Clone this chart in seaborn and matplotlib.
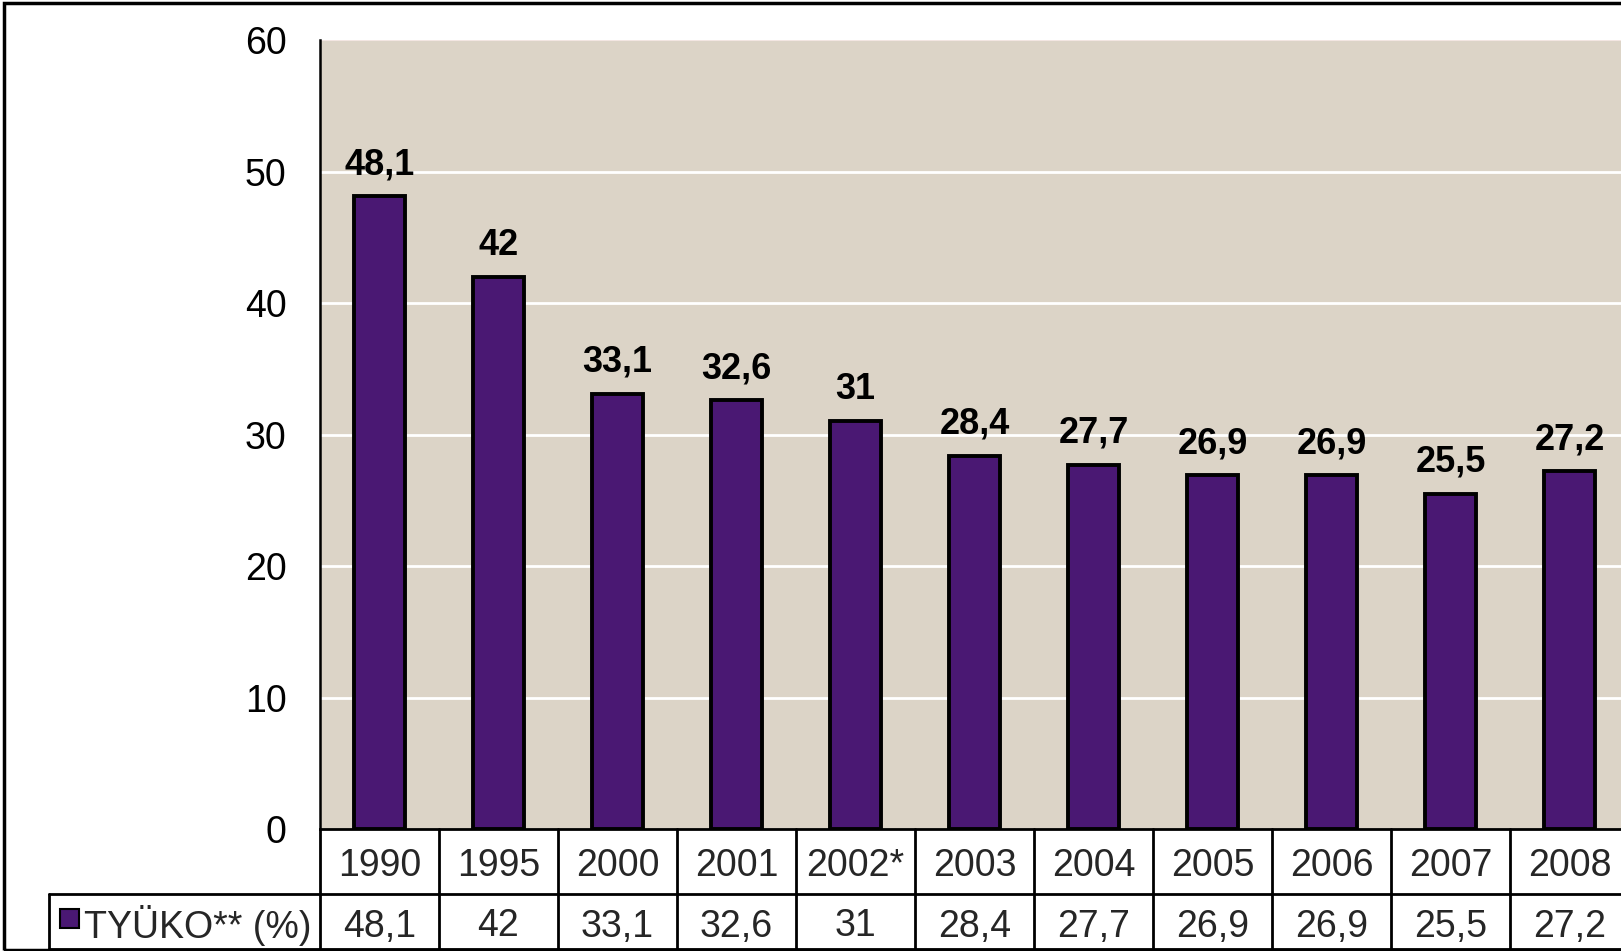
import matplotlib
matplotlib.use("Agg")
import matplotlib.pyplot as plt
import matplotlib.transforms as mtransforms
from matplotlib.patches import Rectangle
import seaborn as sns

years = ["1990", "1995", "2000", "2001", "2002*", "2003", "2004",
         "2005", "2006", "2007", "2008"]
tyuko = [48.1, 42, 33.1, 32.6, 31, 28.4, 27.7, 26.9, 26.9, 25.5, 27.2]
row_label = "TYÜKO** (%)"
y_ticks = [0, 10, 20, 30, 40, 50, 60]


def fmt(v):
    return "{:g}".format(v).replace(".", ",")


sns.set_style("white")
plt.rcParams["font.family"] = ["Liberation Sans", "DejaVu Sans"]

W, H = 1621, 951
fig = plt.figure(figsize=(W / 100, H / 100), dpi=100)
fig.patch.set_facecolor("white")

# plot area in pixels: x 320..1629 (runs off the right edge), y 40..829
left, right, top, bottom = 320, 1629, 40, 829
ax = fig.add_axes([left / W, 1 - bottom / H, (right - left) / W, (bottom - top) / H])
ax.set_facecolor("#dcd4c7")

bar_col = "#4a1873"
sns.barplot(x=years, y=tyuko, color=bar_col, edgecolor="black",
            linewidth=2.8, width=0.43, saturation=1, ax=ax)

ax.set_xlim(-0.5, len(years) - 0.5)
ax.set_ylim(0, 60)
ax.set_yticks(y_ticks)
ax.set_yticklabels([str(t) for t in y_ticks], fontsize=27)
ax.tick_params(axis="y", direction="out", length=10, width=1.8, pad=14, colors="black")
ax.tick_params(axis="x", length=0, labelbottom=False)
ax.set_xlabel("")
ax.set_ylabel("")
for t in y_ticks[1:-1]:
    ax.axhline(t, color="white", lw=2, zorder=0.5)
ax.set_axisbelow(True)

for s in ["top", "right"]:
    ax.spines[s].set_visible(False)
ax.axhline(60, color="#f3e6e2", lw=1.5, zorder=0.6)
ax.spines["left"].set_color("black")
ax.spines["left"].set_linewidth(1.8)
ax.spines["bottom"].set_color("black")
ax.spines["bottom"].set_linewidth(2)

# value labels above bars
for i, v in enumerate(tyuko):
    ax.annotate(fmt(v), (i, v), xytext=(0, 10), textcoords="offset points",
                ha="center", va="bottom", fontsize=26, fontweight="bold", color="black")

# data table beneath the chart
trans = mtransforms.blended_transform_factory(ax.transData, ax.transAxes)
ax_h = bottom - top
r1 = -65 / ax_h
r2 = -120 / ax_h
shift = -5 / ax_h
lab_left = (49 - left) / (right - left) * len(years) - 0.5

for i, (yr, v) in enumerate(zip(years, tyuko)):
    ax.text(i, r1 / 2 + shift, yr, transform=trans, ha="center", va="center",
            fontsize=27, clip_on=False)
    ax.text(i, (r1 + r2) / 2 + shift, fmt(v), transform=trans, ha="center",
            va="center", fontsize=27, clip_on=False)

line_kw = dict(color="black", lw=2, transform=trans, clip_on=False)
for k in range(len(years) + 1):
    ax.plot([k - 0.5, k - 0.5], [0, r2], **line_kw)
ax.plot([lab_left, len(years) - 0.5], [r1, r1], **line_kw)
ax.plot([lab_left, len(years) - 0.5], [r2, r2], **line_kw)
ax.plot([lab_left, lab_left], [r1, r2], **line_kw)

# legend key + row label
fig.patches.append(Rectangle((60 / W, 1 - 928 / H), 19 / W, 19 / H,
                             facecolor=bar_col, edgecolor="black", lw=1.5,
                             transform=fig.transFigure))
fig.text(84 / W, 1 - 925 / H, row_label, ha="left", va="center", fontsize=27)

# outer frame of the picture
fig.patches.append(Rectangle((4 / W, 1 - 950 / H), 1.0, 947 / H, fill=False,
                             edgecolor="black", lw=2.5, transform=fig.transFigure))

fig.savefig("out.png", dpi=100)
